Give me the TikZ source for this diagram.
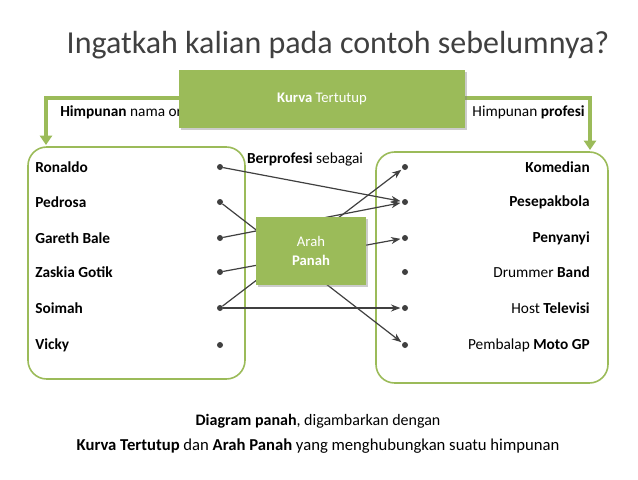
\documentclass[tikz,border=0pt]{standalone}
\usepackage{fontspec}
\setmainfont{Carlito}
\usetikzlibrary{positioning,arrows.meta,shadows}
\definecolor{leaf}{RGB}{155,187,89}
\definecolor{ink}{RGB}{64,64,64}
\tikzset{>=Stealth,
  setbox/.style={draw=leaf,line width=1.2pt,rounded corners=14pt,fill=white},
  greenbox/.style={fill=leaf,text=white,drop shadow={opacity=0.4,shadow xshift=1.5pt,shadow yshift=-1.5pt},align=center,font=\fontsize{11}{14}\selectfont},
  item/.style={font=\fontsize{11.5}{13}\selectfont,text=black,inner sep=0pt},
  dot/.style={circle,fill=ink,inner sep=0pt,minimum size=4.5pt},
  maps/.style={->,draw=ink,line width=0.9pt,shorten >=1pt}}
\begin{document}
\begin{tikzpicture}[x=0.75pt,y=-0.75pt]
\useasboundingbox (0,0) rectangle (638,479);
\node[font=\fontsize{24}{27}\selectfont,text=ink] (title) at (338,45) {Ingatkah kalian pada contoh sebelumnya?};
% kedua himpunan
\draw[setbox] (28,147) rectangle (245,379);
\draw[setbox] (376,152) rectangle (608,383);
\node[item,anchor=west] (lbl1) at (60,112) {\textbf{Himpunan} nama orang};
\node[item,anchor=east] (lbl2) at (585,112) {Himpunan \textbf{profesi}};
\node[item] (rel) at (305,159) {\textbf{Berprofesi} sebagai};
% titik dan nama
\foreach \n/\t/\y in {1/Ronaldo/167,2/Pedrosa/202,3/Gareth Bale/238,4/Zaskia Gotik/272,5/Soimah/308,6/Vicky/345}
{
\node[dot] (a\n) at (220,\y) {};
\node[item,anchor=west] at (35,\y) {\textbf{\t}};
}
\foreach \n/\t/\y in {1/\textbf{Komedian}/167,2/\textbf{Pesepakbola}/202,3/\textbf{Penyanyi}/238,4/{Drummer \textbf{Band}}/272,5/{Host \textbf{Televisi}}/308,6/{Pembalap \textbf{Moto GP}}/345}
{
\node[dot] (b\n) at (405,\y) {};
\node[item,anchor=east] at (590,\y) {\t};
}
% panah
\draw[maps] (a1) -- (b2);
\draw[maps] (a2) -- (b6);
\draw[maps] (a3) -- (b2);
\draw[maps] (a4) -- (b3);
\draw[maps] (a5) -- (b1);
\draw[maps] (a5) -- (b5);
% kotak keterangan
\node[greenbox,minimum width=82pt,minimum height=51pt] (arah) at (311,251) {Arah\\\textbf{Panah}};
\draw[leaf,line width=3pt,->,>={Triangle[length=7pt,width=9pt]}] (200,98) -| (46,145);
\draw[leaf,line width=3pt,->,>={Triangle[length=7pt,width=9pt]}] (440,98) -| (590,150);
\node[greenbox,minimum width=214pt,minimum height=43pt] (kurva) at (322,99) {\textbf{Kurva} Tertutup};
% keterangan bawah
\node[font=\fontsize{12}{14}\selectfont] (cap1) at (318,421) {\textbf{Diagram panah}, digambarkan dengan};
\node[font=\fontsize{12.5}{14}\selectfont] (cap2) at (318,446) {\textbf{Kurva Tertutup} dan \textbf{Arah Panah} yang menghubungkan suatu himpunan};
\end{tikzpicture}
\end{document}
